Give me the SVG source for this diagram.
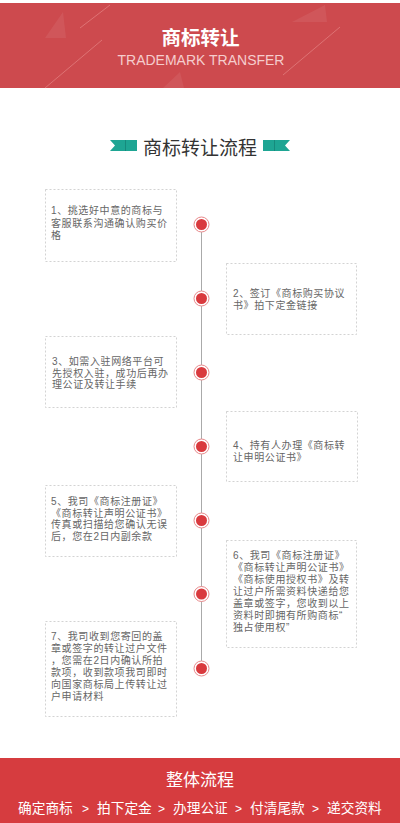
<svg xmlns="http://www.w3.org/2000/svg" width="400" height="823" viewBox="0 0 400 823">
<defs>
<style>
.box{fill:#fff;stroke:#c8c8c8;stroke-width:0.8;stroke-dasharray:2 2}
.bt{font-family:"Liberation Sans","Noto Sans CJK SC",sans-serif;font-size:10px;letter-spacing:0.6px;fill:#666}
.ring{fill:#fff;stroke:#e8898b;stroke-width:1}
.dot{fill:#d93a3e}
.deco{stroke:#e88a8a;stroke-width:0.8;opacity:0.8}
.tri{fill:#ffffff;opacity:0.07}
.flag{fill:#1ea593}
</style>
</defs>
<rect x="0" y="0" width="400" height="823" fill="#fff"/>
<g id="header">
<rect x="0" y="3" width="400" height="85" fill="#cd4a4e"/>
<polygon class="tri" points="45,38 63,12 66,38"/>
<polygon class="tri" points="292,22 325,5 327,22"/>
<polygon class="tri" points="163,88 180,72 184,88"/>
<line class="deco" x1="80" y1="28" x2="110" y2="5"/>
<line class="deco" x1="45" y1="88" x2="102" y2="40"/>
<line class="deco" x1="283" y1="75" x2="340" y2="27"/>
<text x="200.5" y="45" text-anchor="middle" font-family="'Noto Sans CJK SC',sans-serif" font-size="19.5" font-weight="bold" fill="#fff">商标转让</text>
<text x="201" y="65" text-anchor="middle" font-family="'Liberation Sans',sans-serif" font-size="14" fill="#f5cdcd">TRADEMARK TRANSFER</text>
</g>
<g id="heading">
<polygon class="flag" points="110,140 137,140 137,151 110,151 115,145.5"/>
<polygon fill="#168a7c" points="125,140 126,140 126,151 125,151"/>
<polygon class="flag" points="263,140 290,140 285,145.5 290,151 263,151"/>
<polygon fill="#168a7c" points="274,140 275,140 275,151 274,151"/>
<text x="200" y="155" text-anchor="middle" font-family="'Noto Sans CJK SC',sans-serif" font-size="19" fill="#333">商标转让流程</text>
</g>
<g id="connectors">
<line x1="201.5" y1="224.5" x2="201.5" y2="668.5" stroke="#aaa" stroke-width="1"/>
</g>
<g id="dots">
<circle class="ring" cx="201.5" cy="224.5" r="7.5"/><circle class="dot" cx="201.5" cy="224.5" r="5.5"/>
<circle class="ring" cx="201.5" cy="298.5" r="7.5"/><circle class="dot" cx="201.5" cy="298.5" r="5.5"/>
<circle class="ring" cx="201.5" cy="372.5" r="7.5"/><circle class="dot" cx="201.5" cy="372.5" r="5.5"/>
<circle class="ring" cx="201.5" cy="446.5" r="7.5"/><circle class="dot" cx="201.5" cy="446.5" r="5.5"/>
<circle class="ring" cx="201.5" cy="520.5" r="7.5"/><circle class="dot" cx="201.5" cy="520.5" r="5.5"/>
<circle class="ring" cx="201.5" cy="594" r="7.5"/><circle class="dot" cx="201.5" cy="594" r="5.5"/>
<circle class="ring" cx="201.5" cy="668.5" r="7.5"/><circle class="dot" cx="201.5" cy="668.5" r="5.5"/>
</g>
<g id="step1">
<rect class="box" x="45.5" y="189.5" width="131" height="72"/>
<text class="bt" x="51" y="214"><tspan x="51">1、挑选好中意的商标与</tspan><tspan x="51" dy="12.5">客服联系沟通确认购买价</tspan><tspan x="51" dy="12.5">格</tspan></text>
</g>
<g id="step2">
<rect class="box" x="226.5" y="263.5" width="130" height="71"/>
<text class="bt" x="233" y="297"><tspan x="233">2、签订《商标购买协议</tspan><tspan x="233" dy="12">书》拍下定金链接</tspan></text>
</g>
<g id="step3">
<rect class="box" x="45.5" y="336.5" width="131" height="71"/>
<text class="bt" x="52" y="365"><tspan x="52">3、如需入驻网络平台可</tspan><tspan x="52" dy="11.7">先授权入驻，成功后再办</tspan><tspan x="52" dy="11.7">理公证及转让手续</tspan></text>
</g>
<g id="step4">
<rect class="box" x="226.5" y="411.5" width="131" height="70"/>
<text class="bt" x="233" y="449"><tspan x="233">4、持有人办理《商标转</tspan><tspan x="233" dy="11.7">让申明公证书》</tspan></text>
</g>
<g id="step5">
<rect class="box" x="45.5" y="485.5" width="131" height="71"/>
<text class="bt" x="51" y="505"><tspan x="51">5、我司《商标注册证》</tspan><tspan x="51" dy="11.7">《商标转让声明公证书》</tspan><tspan x="51" dy="11.7">传真或扫描给您确认无误</tspan><tspan x="51" dy="11.7">后，您在2日内副余款</tspan></text>
</g>
<g id="step6">
<rect class="box" x="226.5" y="540.5" width="130" height="107"/>
<text class="bt" x="233" y="558.5"><tspan x="233">6、我司《商标注册证》</tspan><tspan x="233" dy="12">《商标转让声明公证书》</tspan><tspan x="233" dy="12">《商标使用授权书》及转</tspan><tspan x="233" dy="12">让过户所需资料快递给您</tspan><tspan x="233" dy="12">盖章或签字，您收到以上</tspan><tspan x="233" dy="12">资料时即拥有所购商标“</tspan><tspan x="233" dy="12">独占使用权”</tspan></text>
</g>
<g id="step7">
<rect class="box" x="45.5" y="621.5" width="131" height="95"/>
<text class="bt" x="51" y="639.5"><tspan x="51">7、我司收到您寄回的盖</tspan><tspan x="51" dy="12">章或签字的转让过户文件</tspan><tspan x="51" dy="12">，您需在2日内确认所拍</tspan><tspan x="51" dy="12">款项，收到款项我司即时</tspan><tspan x="51" dy="12">向国家商标局上传转让过</tspan><tspan x="51" dy="12">户申请材料</tspan></text>
</g>
<g id="footer">
<rect x="0" y="758" width="400" height="65" fill="#d63c3f"/>
<text x="200" y="786" text-anchor="middle" font-family="'Noto Sans CJK SC',sans-serif" font-size="17" fill="#fff">整体流程</text>
<text font-family="'Noto Sans CJK SC','Liberation Sans',sans-serif" font-size="13.7" fill="#fff" y="813"><tspan x="18">确定商标</tspan><tspan x="82" font-family="'Liberation Sans',sans-serif" font-size="12">&gt;</tspan><tspan x="97">拍下定金</tspan><tspan x="158" font-family="'Liberation Sans',sans-serif" font-size="12">&gt;</tspan><tspan x="173">办理公证</tspan><tspan x="235" font-family="'Liberation Sans',sans-serif" font-size="12">&gt;</tspan><tspan x="250">付清尾款</tspan><tspan x="312" font-family="'Liberation Sans',sans-serif" font-size="12">&gt;</tspan><tspan x="327">递交资料</tspan></text>
</g>
</svg>
